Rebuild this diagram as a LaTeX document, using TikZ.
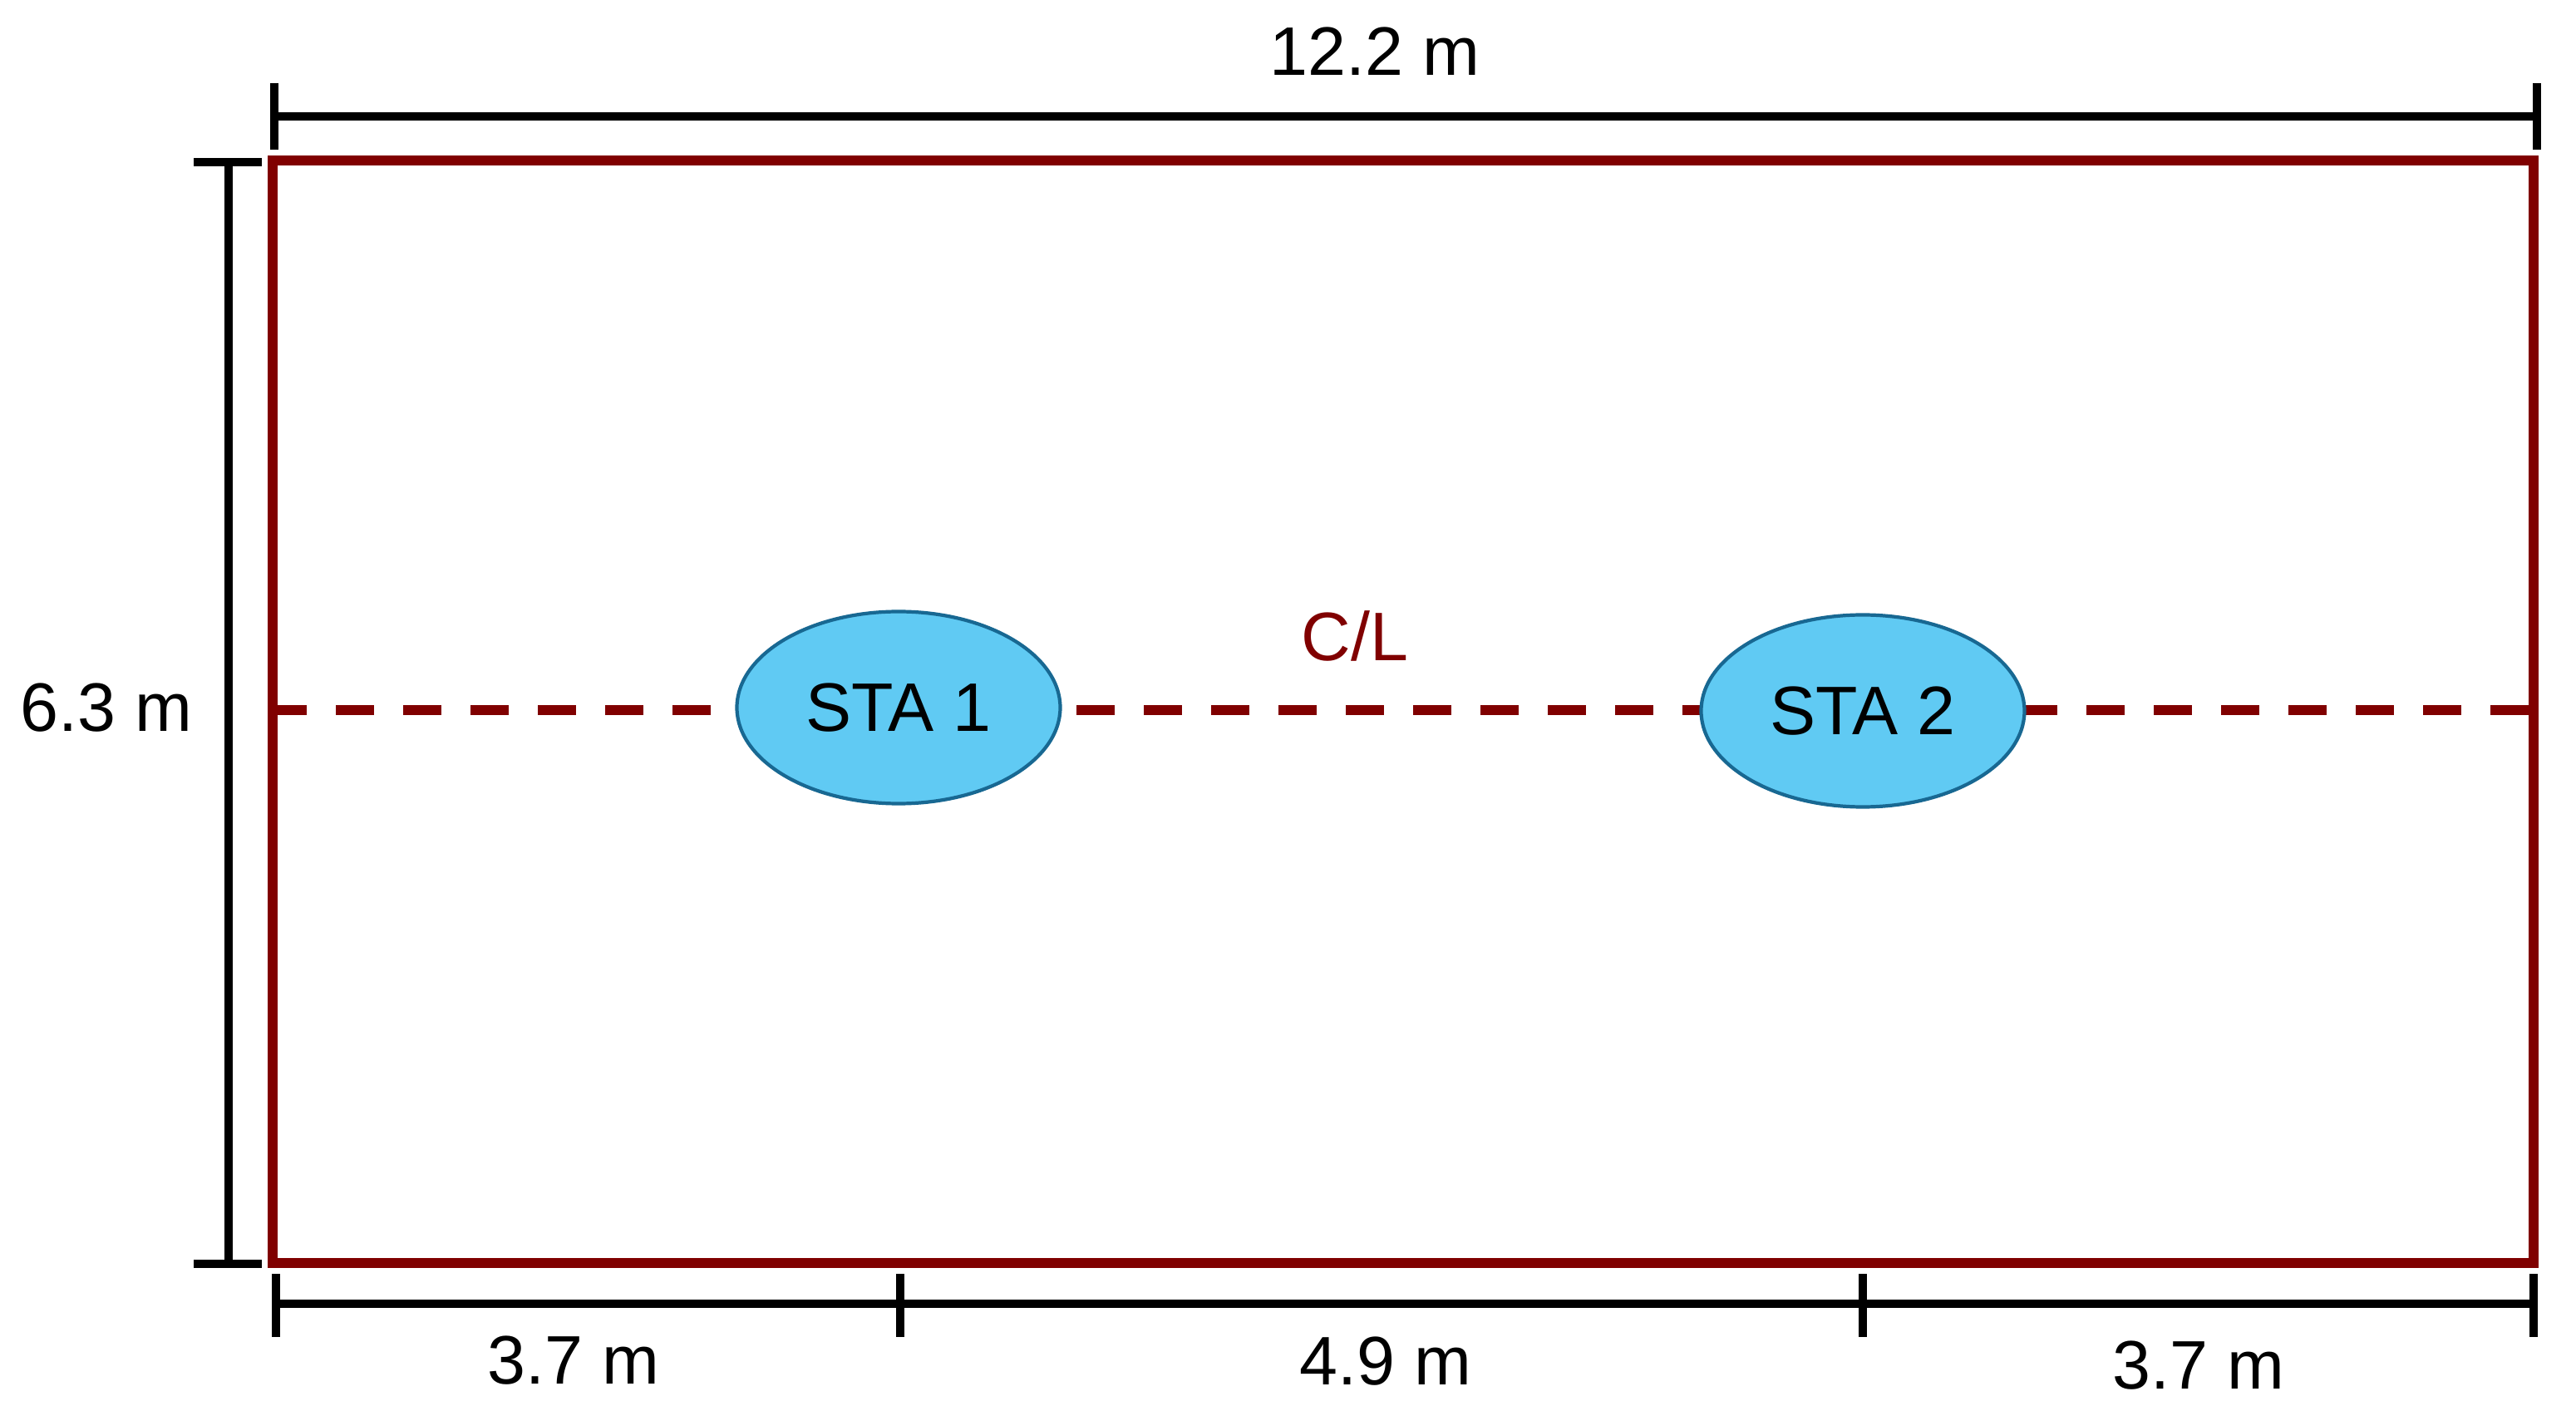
\documentclass[tikz,border=0pt]{standalone}
\usepackage{fontspec}
\setmainfont{Liberation Sans}
\usepackage{tikz}
\usetikzlibrary{calc,shapes.geometric,positioning}
\definecolor{wallred}{RGB}{128,0,0}
\definecolor{stafill}{RGB}{96,202,243}
\definecolor{staline}{RGB}{24,104,146}
\tikzset{dimline/.style={line width=2.8pt,black},roomline/.style={line width=3.4pt,wallred}}

\begin{document}
\begin{tikzpicture}[font=\fontsize{23.5}{27}\selectfont]

\tikzset{stanode/.style={shape=ellipse,fill=stafill,draw=staline,line width=1.2pt,minimum width=3.89cm,minimum height=2.31cm,inner sep=0pt},
dimlabel/.style={inner sep=0pt,text=black},
cllabel/.style={inner sep=0pt,text=wallred}}

\useasboundingbox (0,0) rectangle (30.99,17.02);

% Room outline
\coordinate (bl) at (3.28,1.83);
\coordinate (tr) at (30.48,15.09);
\draw[roomline] (bl) rectangle (tr);

% Centre line
\coordinate (clL) at (3.28,8.48);
\coordinate (clR) at (30.48,8.48);
\draw[roomline,dash pattern=on 0.46cm off 0.35cm,dash phase=0.05cm] (clL) -- (clR);
\node[cllabel] (cl) at (16.30,9.37) {C/L};

% Stations
\node[stanode] (sta1) at (10.81,8.51) {STA 1};
\node[stanode] (sta2) at (22.41,8.47) {STA 2};

% Top dimension
\coordinate (topL) at (3.30,15.62);
\coordinate (topR) at (30.52,15.62);
\draw[dimline] (topL) -- (topR);
\foreach \p in {topL,topR} \draw[dimline] ($(\p)+(0,0.40)$) -- ($(\p)+(0,-0.40)$); % ticks
\node[dimlabel] (topLabel) at (16.54,16.40) {12.2 m};

% Left dimension
\coordinate (leftT) at (2.75,15.07);
\coordinate (leftB) at (2.75,1.82);
\draw[dimline] (leftT) -- (leftB);
\foreach \p in {leftT,leftB} \draw[dimline] ($(\p)+(-0.42,0)$) -- ($(\p)+(0.40,0)$); % ticks
\node[dimlabel] (leftLabel) at (1.28,8.51) {6.3 m};

% Bottom dimensions
\coordinate (b1) at (3.32,1.34);
\coordinate (b2) at (10.83,1.34);
\coordinate (b3) at (22.41,1.34);
\coordinate (b4) at (30.48,1.34);
\draw[dimline] (b1) -- (b4);
\foreach \p in {b1,b2,b3,b4} \draw[dimline] ($(\p)+(0,0.36)$) -- ($(\p)+(0,-0.40)$); % ticks
\node[dimlabel] (seg1) at (6.90,0.66) {3.7 m};
\node[dimlabel] (seg2) at (16.67,0.65) {4.9 m};
\node[dimlabel] (seg3) at (26.45,0.60) {3.7 m};

\end{tikzpicture}
\end{document}
